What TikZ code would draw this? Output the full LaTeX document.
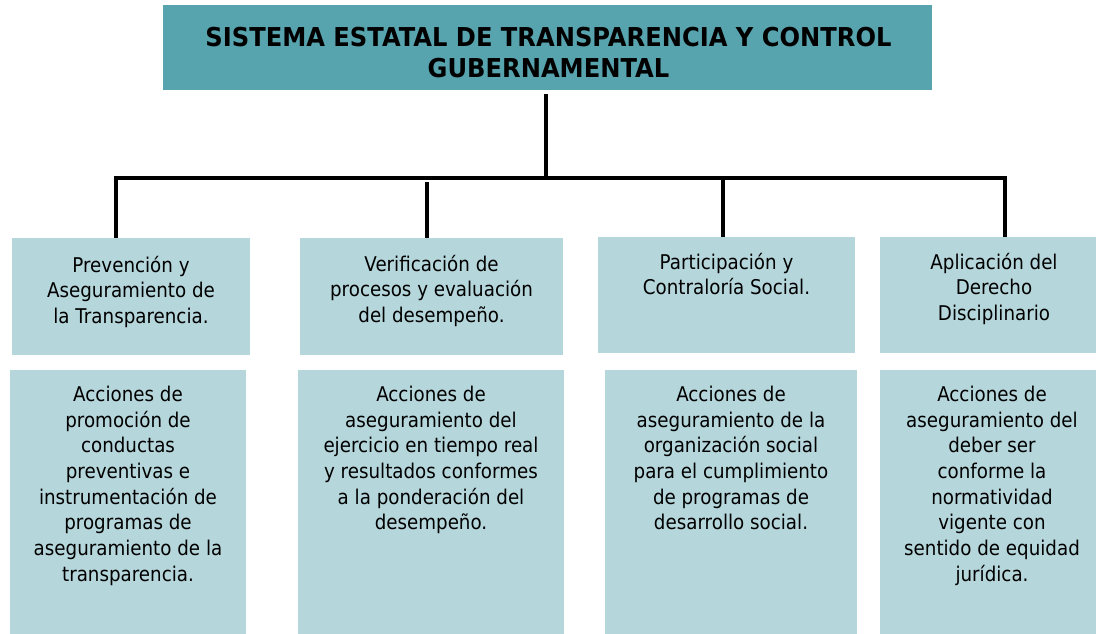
\documentclass[tikz,border=0pt]{standalone}
\usepackage{fontspec}
\setmainfont{DejaVu Sans}
\newfontfamily\titlefont[FakeStretch=0.93]{DejaVu Sans}
\newfontfamily\bodyfont[FakeStretch=0.9]{DejaVu Sans}
\definecolor{teal}{RGB}{87,163,174}
\definecolor{pale}{RGB}{181,214,219}
\begin{document}
\begin{tikzpicture}[x=1pt,y=-1pt,
  topbox/.style={fill=teal,draw=none,inner sep=0pt},
  hbox/.style={fill=pale,draw=none,inner sep=0pt},
  btxt/.style={anchor=north,inner sep=0pt,align=center,font=\bodyfont\fontsize{20.3}{25.7}\selectfont},
  conn/.style={line width=3.5pt,line cap=rect,black}]
\useasboundingbox (0,0) rectangle (1096,634);
% top box
\node[topbox,minimum width=769pt,minimum height=85pt] (top) at (547.5,47.5) {};
\node[inner sep=0pt,align=center,font=\titlefont\bfseries\fontsize{26}{31}\selectfont] (title) at (548.5,52.5)
  {SISTEMA ESTATAL DE TRANSPARENCIA Y CONTROL\\GUBERNAMENTAL};
% header boxes
\node[hbox,minimum width=238pt,minimum height=117pt] (h1) at (131,296.5) {};
\node[hbox,minimum width=263pt,minimum height=117pt] (h2) at (431.5,296.5) {};
\node[hbox,minimum width=257pt,minimum height=116pt] (h3) at (726.5,295) {};
\node[hbox,minimum width=216pt,minimum height=116pt] (h4) at (988,295) {};
% lower boxes
\node[hbox,minimum width=236pt,minimum height=264pt] (l1) at (128,502) {};
\node[hbox,minimum width=266pt,minimum height=264pt] (l2) at (431,502) {};
\node[hbox,minimum width=252pt,minimum height=264pt] (l3) at (731,502) {};
\node[hbox,minimum width=216pt,minimum height=264pt] (l4) at (988,502) {};
% header texts
\node[btxt] (t1) at ([yshift=-18pt]h1.north) {Prevención y\\Aseguramiento de\\la Transparencia.};
\node[btxt] (t2) at ([yshift=-17pt]h2.north) {Verificación de\\procesos y evaluación\\del desempeño.};
\node[btxt] (t3) at ([xshift=0pt,yshift=-16pt]h3.north) {Participación y\\Contraloría Social.};
\node[btxt] (t4) at ([xshift=6pt,yshift=-16pt]h4.north) {Aplicación del\\Derecho\\Disciplinario};
% lower texts
\node[btxt] (u1) at ([yshift=-16pt]l1.north) {Acciones de\\promoción de\\conductas\\preventivas e\\instrumentación de\\programas de\\aseguramiento de la\\transparencia.};
\node[btxt] (u2) at ([yshift=-16pt]l2.north) {Acciones de\\aseguramiento del\\ejercicio en tiempo real\\y resultados conformes\\a la ponderación del\\desempeño.};
\node[btxt] (u3) at ([yshift=-16pt]l3.north) {Acciones de\\aseguramiento de la\\organización social\\para el cumplimiento\\de programas de\\desarrollo social.};
\node[btxt] (u4) at ([xshift=4pt,yshift=-16pt]l4.north) {Acciones de\\aseguramiento del\\deber ser\\conforme la\\normatividad\\vigente con\\sentido de equidad\\jurídica.};
% connectors
\coordinate (bm) at (546,178);
\coordinate (b1) at (116,178);
\coordinate (b2) at (427,182);
\coordinate (b3) at (723,178);
\coordinate (b4) at (1005,178);
\draw[conn,line cap=butt] ([yshift=-4pt]top.south -| bm) -- (bm);
\draw[conn] (b1) -- (b4);
\draw[conn,line cap=butt] (b1) -- (b1 |- h1.north);
\draw[conn,line cap=butt] (b2) -- (b2 |- h2.north);
\draw[conn,line cap=butt] (b3) -- (b3 |- h3.north);
\draw[conn,line cap=butt] (b4) -- (b4 |- h4.north);
\end{tikzpicture}
\end{document}
